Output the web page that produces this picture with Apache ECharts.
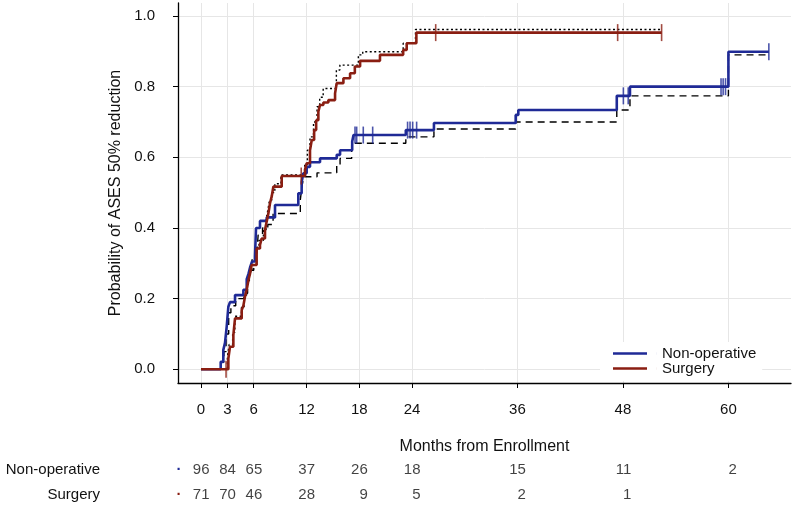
<!DOCTYPE html>
<html><head><meta charset="utf-8">
<script src="https://cdn.jsdelivr.net/npm/echarts@6/dist/echarts.min.js"></script>
<style>html,body{margin:0;padding:0;background:#fff}#c{width:794px;height:505px}</style>
</head><body><div id="c"></div>
<script>
// ---------- data ----------
const xTicks = [0, 3, 6, 12, 18, 24, 36, 48, 60];
const yTicks = [0, 0.2, 0.4, 0.6, 0.8, 1.0];
const groups = ['Non-operative', 'Surgery'];
const riskNonOp = [96, 84, 65, 37, 26, 18, 15, 11, 2];
const riskSurgery = [71, 70, 46, 28, 9, 5, 2, 1];

const nonOpCurve = [[0,0],[2.24,0.021],[2.54,0.055],[2.73,0.075],[2.92,0.12],[3.11,0.177],[3.3,0.19],[3.87,0.21],[4.82,0.225],[5.2,0.255],[5.4,0.27],[5.6,0.29],[5.8,0.305],[6.14,0.32],[6.26,0.40],[6.71,0.42],[7.47,0.43],[8.42,0.465],[11.07,0.498],[11.45,0.53],[11.64,0.555],[12.02,0.573],[12.4,0.586],[13.54,0.597],[15.44,0.607],[15.82,0.62],[17.2,0.645],[17.35,0.663],[23.3,0.677],[26.5,0.697],[35.8,0.72],[36.1,0.734],[47.3,0.774],[48.8,0.80],[60.0,0.899],[64.6,0.899]];
const nonOpCensor = [[17.52,0.663],[17.71,0.663],[18.46,0.663],[19.53,0.663],[23.5,0.677],[23.78,0.677],[24.08,0.677],[24.53,0.677],[48.05,0.774],[48.6,0.774],[59.16,0.80],[59.4,0.80],[59.67,0.80],[64.6,0.899]];
const nonOpRef = [[0,0],[2.3,0.02],[2.6,0.05],[2.85,0.1],[3.15,0.16],[3.4,0.18],[3.95,0.2],[4.9,0.215],[5.3,0.245],[5.5,0.26],[5.7,0.28],[6.0,0.295],[6.3,0.31],[6.5,0.38],[7.0,0.40],[7.6,0.41],[8.2,0.441],[11.3,0.48],[11.5,0.52],[11.7,0.545],[13.2,0.556],[15.44,0.578],[15.82,0.597],[17.14,0.64],[23.3,0.658],[26.5,0.68],[35.8,0.70],[47.3,0.734],[48.8,0.774],[60.0,0.89],[64.6,0.89]];

const surgeryCurve = [[0,0],[3.11,0.03],[3.3,0.064],[3.68,0.097],[3.87,0.144],[4.63,0.168],[4.82,0.18],[5.0,0.205],[5.2,0.225],[5.4,0.253],[5.57,0.27],[5.76,0.295],[6.33,0.342],[6.71,0.352],[6.9,0.37],[7.28,0.394],[7.47,0.418],[7.66,0.44],[7.85,0.47],[8.05,0.49],[8.23,0.517],[9.18,0.547],[11.83,0.565],[12.02,0.583],[12.4,0.62],[12.6,0.649],[12.87,0.677],[13.1,0.705],[13.35,0.729],[13.54,0.748],[13.92,0.755],[14.49,0.762],[15.25,0.781],[15.44,0.81],[16.2,0.824],[16.96,0.838],[17.5,0.857],[18.1,0.873],[20.36,0.89],[23.0,0.904],[23.4,0.923],[24.5,0.953],[52.4,0.953]];
const surgeryCensor = [[2.85,0],[11.4,0.547],[26.7,0.953],[47.4,0.953],[52.4,0.953]];
const surgeryRef = [[0,0],[3.0,0.035],[3.2,0.07],[3.6,0.105],[3.85,0.15],[4.6,0.175],[4.9,0.21],[5.2,0.25],[5.5,0.28],[5.8,0.31],[6.2,0.345],[6.6,0.365],[7.1,0.395],[7.4,0.425],[7.6,0.45],[7.8,0.48],[8.1,0.5],[8.4,0.525],[9.1,0.55],[11.8,0.58],[12.1,0.62],[12.4,0.658],[12.8,0.70],[13.2,0.743],[13.5,0.77],[13.9,0.795],[15.4,0.847],[15.8,0.861],[17.9,0.89],[18.4,0.899],[23.0,0.923],[24.4,0.962],[52.4,0.962]];

// ---------- style ----------
const FONT = "'Liberation Sans', Arial, Helvetica, sans-serif";
const BLUE = '#1f2a96';
const RED = '#8a1e12';
const TXT = '#111';
const GRIDC = '#e6e6e6';
const X_MIN = -2.617, X_MAX = 67.12;
const Y_MIN = -0.0388, Y_MAX = 1.0368;

const riskData = [];
xTicks.forEach((t, i) => { if (riskNonOp[i] != null) riskData.push([t, groups[0], riskNonOp[i]]); });
xTicks.forEach((t, i) => { if (riskSurgery[i] != null) riskData.push([t, groups[1], riskSurgery[i]]); });

const chart = echarts.init(document.getElementById('c'), null, {renderer: 'canvas'});
chart.setOption({
  animation: false,
  textStyle: {fontFamily: FONT},
  grid: [
    {left: 178, right: 3, top: 3, bottom: 122},
    {left: 178, right: 3, top: 470, bottom: 10}
  ],
  legend: {
    data: groups,
    orient: 'vertical',
    left: 600, top: 342,
    padding: [4, 6, 5, 13],
    backgroundColor: '#fff',
    itemGap: 0,
    itemWidth: 44, itemHeight: 3,
    icon: 'path://M0,0H34V2.6H0Z M43.95,0H44V2.6H43.95Z',
    textStyle: {fontSize: 15, color: TXT, lineHeight: 13.3, fontFamily: FONT}
  },
  xAxis: [
    {
      type: 'value', gridIndex: 0, min: X_MIN, max: X_MAX,
      name: 'Months from Enrollment', nameLocation: 'middle', nameGap: 55.7,
      nameTextStyle: {fontSize: 16, color: TXT, fontFamily: FONT},
      axisLine: {show: true, onZero: false, lineStyle: {color: '#000', width: 1.3}},
      axisTick: {show: true, length: 5, customValues: xTicks, lineStyle: {color: '#000', width: 1}},
      axisLabel: {customValues: xTicks, margin: 19.5, fontSize: 15, color: TXT, fontFamily: FONT,
        formatter: v => String(Math.round(v))},
      splitLine: {show: true, lineStyle: {color: GRIDC, width: 1}}
    },
    {
      type: 'value', gridIndex: 1, min: X_MIN, max: X_MAX, show: false,
      splitLine: {show: false}
    }
  ],
  yAxis: [
    {
      type: 'value', gridIndex: 0, min: Y_MIN, max: Y_MAX,
      name: 'Probability of ASES 50% reduction', nameLocation: 'middle', nameGap: 51,
      nameTextStyle: {fontSize: 16, color: TXT, fontFamily: FONT},
      axisLine: {show: true, onZero: false, lineStyle: {color: '#000', width: 1.3}},
      axisTick: {show: true, length: 5, customValues: yTicks, lineStyle: {color: '#000', width: 1}},
      axisLabel: {customValues: yTicks, margin: 23, fontSize: 15, color: TXT, fontFamily: FONT,
        formatter: v => v.toFixed(1)},
      splitLine: {show: true, lineStyle: {color: GRIDC, width: 1}}
    },
    {
      type: 'category', gridIndex: 1, data: groups, inverse: true, boundaryGap: false,
      axisLine: {show: false}, axisTick: {show: false}, splitLine: {show: false},
      axisLabel: {
        margin: -4, fontSize: 15, color: TXT, fontFamily: FONT,
        formatter: v => v === groups[0] ? '{n|' + v + '}{db|·}' : '{n|' + v + '}{dr|·}',
        rich: {
          n: {fontSize: 15, color: TXT, fontFamily: FONT, padding: [0, 76, 0, 0]},
          db: {fontSize: 15, color: BLUE, width: 6, align: 'center', fontFamily: FONT, fontWeight: 'bold'},
          dr: {fontSize: 15, color: RED, width: 6, align: 'center', fontFamily: FONT, fontWeight: 'bold'}
        }
      }
    }
  ],
  series: [
    {name: 'Non-operative ref', type: 'line', step: 'end', data: nonOpRef, symbol: 'none',
      lineStyle: {color: '#000', width: 1.4, type: [7, 5]}, z: 2, silent: true},
    {name: 'Surgery ref', type: 'line', step: 'end', data: surgeryRef, symbol: 'none',
      lineStyle: {color: '#000', width: 1.4, type: [2, 2.5]}, z: 2, silent: true},
    {name: 'Non-operative', type: 'line', step: 'end', data: nonOpCurve, symbol: 'none',
      color: BLUE, lineStyle: {color: BLUE, width: 2.6}, z: 3},
    {name: 'Surgery', type: 'line', step: 'end', data: surgeryCurve, symbol: 'none',
      color: RED, lineStyle: {color: RED, width: 2.6}, z: 3},
    {name: 'Non-operative censored', type: 'scatter', data: nonOpCensor, symbol: 'rect',
      symbolSize: [1.6, 17], itemStyle: {color: BLUE}, z: 4},
    {name: 'Surgery censored', type: 'scatter', data: surgeryCensor, symbol: 'rect',
      symbolSize: [1.6, 17], itemStyle: {color: RED}, z: 4},
    {name: 'Number at risk', type: 'scatter', xAxisIndex: 1, yAxisIndex: 1, data: riskData,
      symbol: 'circle', symbolSize: 1, itemStyle: {color: 'rgba(0,0,0,0)'},
      label: {show: true, position: 'left', distance: -9, fontSize: 15, color: TXT, fontFamily: FONT,
        formatter: p => String(p.value[2])}}
  ]
});
</script>
</body></html>
